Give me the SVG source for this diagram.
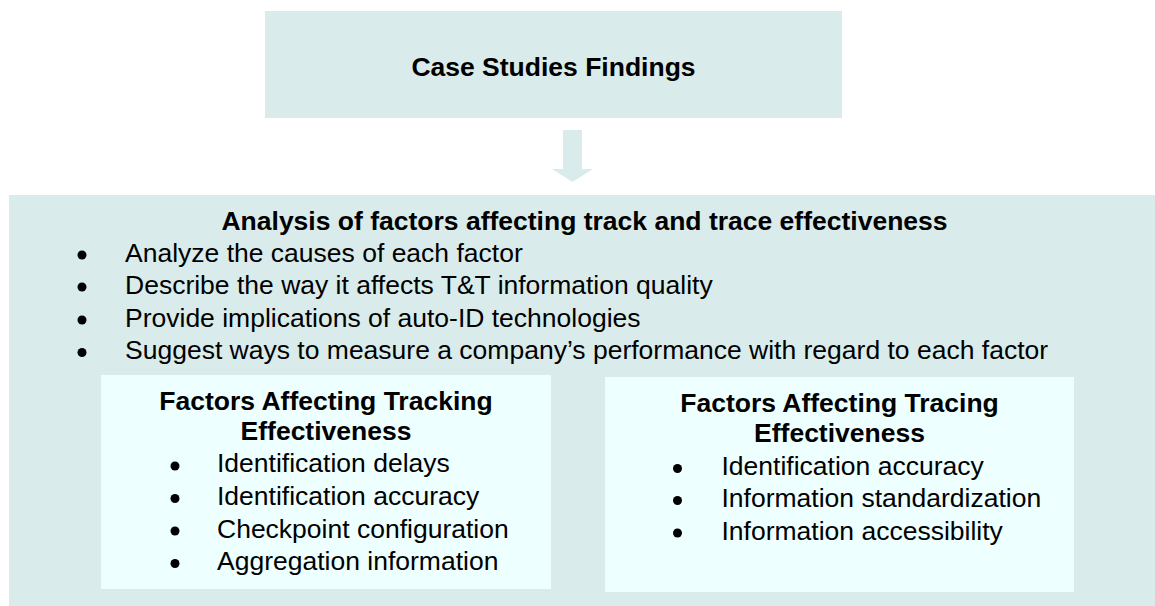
<svg xmlns="http://www.w3.org/2000/svg" width="1155" height="606" viewBox="0 0 1155 606">
<style>
.outer{fill:#D9ECEB}
.inner{fill:#EDFFFF}
text{font-family:"Liberation Sans",Arial,sans-serif;font-size:26.5px;fill:#000}
.b{font-weight:bold}
.c{text-anchor:middle}
.dot{fill:#000}
</style>
<rect width="1155" height="606" fill="#fff"/>
<g id="connectors">
<polygon class="outer" points="563,130 582,130 582,169 593,169 572.5,182 552,169 563,169"/>
</g>
<g id="case-studies">
<rect class="outer" x="265" y="11" width="577" height="107"/>
<text class="b c" x="553.5" y="76">Case Studies Findings</text>
</g>
<g id="analysis">
<rect class="outer" x="9" y="195" width="1146" height="411"/>
<text class="b c" x="584.5" y="230">Analysis of factors affecting track and trace effectiveness</text>
<circle class="dot" cx="82" cy="255" r="4.5"/>
<text x="125" y="261.7">Analyze the causes of each factor</text>
<circle class="dot" cx="82" cy="287" r="4.5"/>
<text x="125" y="294">Describe the way it affects T&amp;T information quality</text>
<circle class="dot" cx="82" cy="320" r="4.5"/>
<text x="125" y="326.5">Provide implications of auto-ID technologies</text>
<circle class="dot" cx="82" cy="352.5" r="4.5"/>
<text x="125" y="359">Suggest ways to measure a company’s performance with regard to each factor</text>
</g>
<g id="tracking">
<rect class="inner" x="101" y="375" width="450" height="214"/>
<text class="b c" x="326" y="410">Factors Affecting Tracking</text>
<text class="b c" x="326" y="440">Effectiveness</text>
<circle class="dot" cx="175" cy="466" r="4.5"/>
<text x="217" y="472">Identification delays</text>
<circle class="dot" cx="175" cy="498.5" r="4.5"/>
<text x="217" y="505">Identification accuracy</text>
<circle class="dot" cx="175" cy="531" r="4.5"/>
<text x="217" y="537.5">Checkpoint configuration</text>
<circle class="dot" cx="175" cy="563.5" r="4.5"/>
<text x="217" y="570">Aggregation information</text>
</g>
<g id="tracing">
<rect class="inner" x="605" y="377" width="469" height="215"/>
<text class="b c" x="839.5" y="411.5">Factors Affecting Tracing</text>
<text class="b c" x="839.5" y="441.5">Effectiveness</text>
<circle class="dot" cx="677.5" cy="468.5" r="4.5"/>
<text x="721.5" y="475">Identification accuracy</text>
<circle class="dot" cx="677.5" cy="500.5" r="4.5"/>
<text x="721.5" y="507">Information standardization</text>
<circle class="dot" cx="677.5" cy="533" r="4.5"/>
<text x="721.5" y="539.5">Information accessibility</text>
</g>
</svg>
